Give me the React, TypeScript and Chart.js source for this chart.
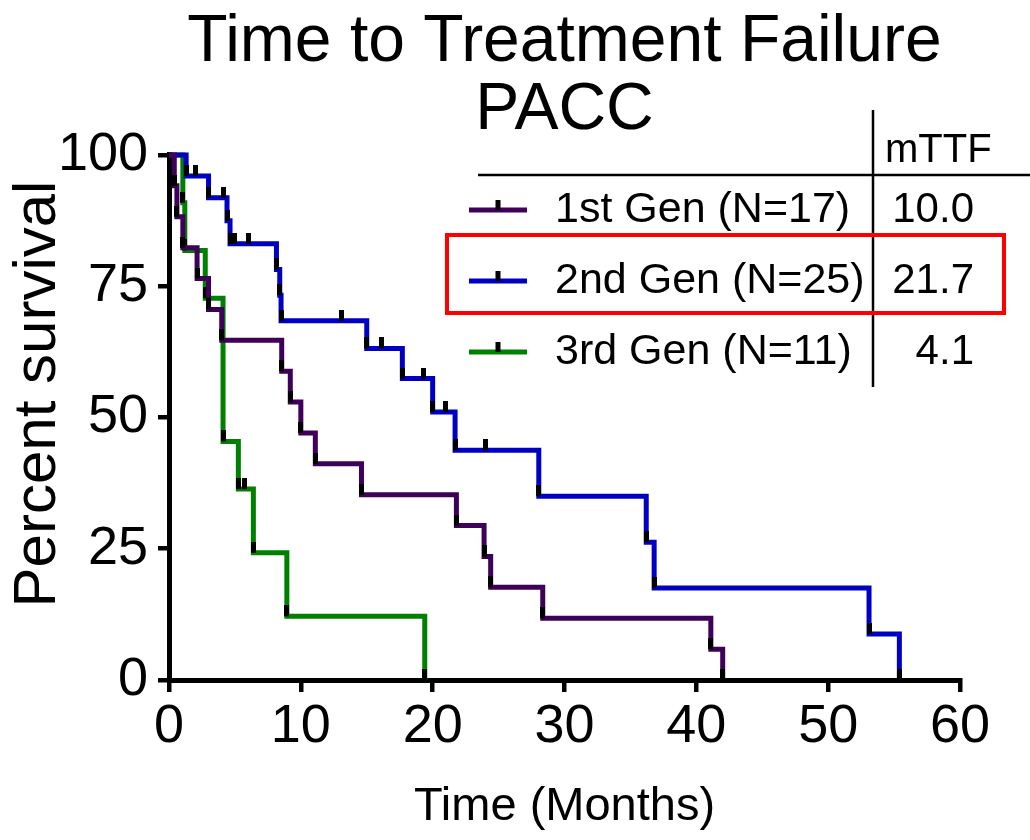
import React, { useEffect, useRef } from 'react';
import { Chart, registerables } from 'chart.js';

Chart.register(...registerables);

const FONT = '"Liberation Sans", Arial, Helvetica, sans-serif';

// Kaplan–Meier curves: month of each event or censored case, and percent surviving after it
const gen1Months = [0, 0.4, 0.6, 1.05, 2.13, 3.0, 4.0, 8.55, 9.2, 10.0, 11.1, 14.6, 21.8, 23.9, 24.4, 28.35, 41.1, 42.0];
const gen1Survival = [100, 94.12, 88.24, 82.35, 76.47, 70.59, 64.71, 58.82, 52.94, 47.06, 41.18, 35.29, 29.41, 23.53, 17.65, 11.76, 5.88, 0];

const gen2Months = [0, 1.3, 2.0, 3.0, 4.15, 4.4, 4.63, 5.0, 6.0, 8.15, 8.4, 8.5, 13.1, 15.0, 16.1, 17.7, 19.3, 20.0, 21.0, 21.7, 24.0, 28.05, 36.2, 36.8, 53.1, 55.4];
const gen2Survival = [100, 96, 96, 91.83, 91.83, 87.46, 83.08, 83.08, 83.08, 78.19, 73.3, 68.42, 68.42, 63.16, 63.16, 57.42, 57.42, 51.04, 51.04, 43.75, 43.75, 35.0, 26.25, 17.5, 8.75, 0];

const gen3Months = [0, 1.05, 1.2, 2.75, 4.1, 5.26, 5.75, 6.4, 8.94, 19.4];
const gen3Survival = [100, 90.91, 81.82, 72.73, 45.45, 36.36, 36.36, 24.24, 12.12, 0];

const seriesLabels = ['1st Gen (N=17)', '2nd Gen (N=25)', '3rd Gen (N=11)'];
const medianTTF = ['10.0', '21.7', '4.1'];
const seriesColors = ['#3e0058', '#0000c4', '#008000'];

const xTickValues = [0, 10, 20, 30, 40, 50, 60];
const yTickValues = [0, 25, 50, 75, 100];

const yAxisTitle = 'Percent survival';
const xAxisTitle = 'Time (Months)';

// A short vertical tick that sits on top of the curve at each step / censored case
function makeTickMark(): HTMLCanvasElement {
  const c = document.createElement('canvas');
  c.width = 5;
  c.height = 22;
  const g = c.getContext('2d')!;
  g.fillStyle = '#000';
  g.fillRect(0, 0, 5, 11);
  return c;
}

// Legend table with the median time-to-failure column, plus the rotated y-axis title
const legendTable = {
  id: 'legendTable',
  afterDraw(chart: any) {
    const ctx = chart.ctx as CanvasRenderingContext2D;
    const rowY = [210, 281, 352];
    ctx.save();

    // y-axis title, placed a little above the axis middle
    ctx.save();
    ctx.translate(38, 394);
    ctx.rotate(-Math.PI / 2);
    ctx.fillStyle = '#000';
    ctx.textAlign = 'center';
    ctx.textBaseline = 'middle';
    ctx.font = `60px ${FONT}`;
    ctx.fillText(yAxisTitle, 0, 0);
    ctx.restore();

    ctx.strokeStyle = '#000';
    ctx.lineWidth = 2.5;
    ctx.beginPath();
    ctx.moveTo(478, 175);
    ctx.lineTo(1030, 175);
    ctx.moveTo(873, 110);
    ctx.lineTo(873, 387);
    ctx.stroke();

    ctx.fillStyle = '#000';
    ctx.textBaseline = 'middle';
    ctx.textAlign = 'left';
    ctx.font = `40px ${FONT}`;
    ctx.fillText('mTTF', 885, 151);

    seriesLabels.forEach((label, i) => {
      const y = rowY[i];
      ctx.strokeStyle = seriesColors[i];
      ctx.lineWidth = 5;
      ctx.beginPath();
      ctx.moveTo(469, y);
      ctx.lineTo(527, y);
      ctx.stroke();
      ctx.fillStyle = '#000';
      ctx.fillRect(495.5, y - 10, 5, 10);

      ctx.font = `43px ${FONT}`;
      ctx.textAlign = 'left';
      ctx.fillText(label, 555, y);
      ctx.font = `42px ${FONT}`;
      ctx.textAlign = 'right';
      ctx.fillText(medianTTF[i], 974, y);
    });

    ctx.strokeStyle = '#ff0000';
    ctx.lineWidth = 4;
    ctx.strokeRect(447, 235, 557, 78);

    ctx.restore();
  },
};

export default function App() {
  const canvasRef = useRef<HTMLCanvasElement | null>(null);

  useEffect(() => {
    document.body.style.margin = '0';
    document.body.style.overflow = 'hidden';
    const canvas = canvasRef.current;
    if (!canvas) return;

    const tick = makeTickMark();
    const series = [
      { months: gen1Months, survival: gen1Survival },
      { months: gen2Months, survival: gen2Survival },
      { months: gen3Months, survival: gen3Survival },
    ];

    const axisGrid = (len: number) => ({
      display: true,
      drawOnChartArea: false,
      drawTicks: true,
      tickLength: len,
      tickWidth: 4.5,
      lineWidth: 4.5,
      color: '#000',
    });
    const axisBorder = { display: true, width: 5, color: '#000' };

    const chart = new Chart(canvas, {
      type: 'line',
      data: {
        datasets: series.map((s, i) => ({
          label: seriesLabels[i],
          data: s.months.map((m, j) => ({ x: m, y: s.survival[j] })),
          borderColor: seriesColors[i],
          backgroundColor: seriesColors[i],
          borderWidth: 5,
          borderJoinStyle: 'miter' as const,
          stepped: 'before' as const,
          pointStyle: tick,
          pointRadius: (c: any) => (c.dataIndex === 0 ? 0 : 3),
          pointHoverRadius: 0,
          fill: false,
          clip: false as any,
        })),
      },
      options: {
        animation: false,
        responsive: false,
        maintainAspectRatio: false,
        layout: { padding: { left: 0, right: 70, top: 0, bottom: 0 } },
        font: { family: FONT },
        plugins: {
          legend: { display: false },
          tooltip: { enabled: false },
          title: {
            display: true,
            fullSize: false,
            text: ['Time to Treatment Failure', 'PACC'],
            color: '#000',
            font: { family: FONT, size: 66, weight: 'normal', lineHeight: 1.04 },
            padding: { top: 8, bottom: 9.7 },
          },
        },
        scales: {
          x: {
            type: 'linear',
            min: 0,
            max: 60,
            afterFit: (s: any) => {
              s.height = 160;
            },
            afterBuildTicks: (s: any) => {
              s.ticks = xTickValues.map((v) => ({ value: v }));
            },
            ticks: {
              color: '#000',
              font: { family: FONT, size: 54 },
              padding: 3,
              maxRotation: 0,
              autoSkip: false,
            },
            grid: axisGrid(12),
            border: axisBorder,
            title: {
              display: true,
              text: xAxisTitle,
              color: '#000',
              font: { family: FONT, size: 47 },
              padding: { top: 0, bottom: 5 },
            },
          },
          y: {
            type: 'linear',
            min: 0,
            max: 100,
            afterFit: (s: any) => {
              s.width = 169;
            },
            afterBuildTicks: (s: any) => {
              s.ticks = yTickValues.map((v) => ({ value: v }));
            },
            ticks: {
              color: '#000',
              font: { family: FONT, size: 54 },
              padding: 10,
            },
            grid: axisGrid(11),
            border: axisBorder,
            title: { display: false },
          },
        },
      },
      plugins: [legendTable],
    });

    return () => chart.destroy();
  }, []);

  return (
    <div style={{ width: 1030, height: 840, position: 'relative' }}>
      <canvas ref={canvasRef} width={1030} height={840} />
    </div>
  );
}
